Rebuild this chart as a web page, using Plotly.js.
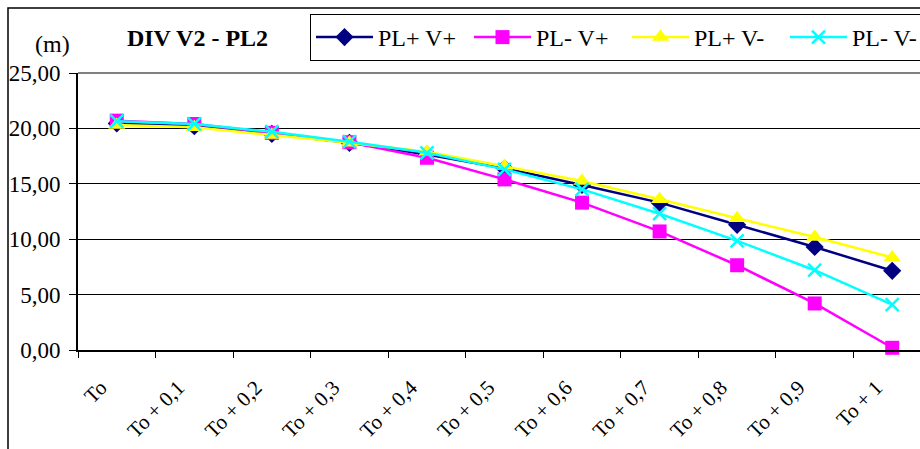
<!DOCTYPE html>
<html>
<head>
<meta charset="utf-8">
<script src="https://cdn.plot.ly/plotly-3.0.1.min.js"></script>
<style>
  html, body { margin: 0; padding: 0; background: #fff; overflow: hidden; }
  #chart { width: 920px; height: 449px; }
</style>
</head>
<body>
<div id="chart"></div>
<script>
// ---- data ----
var categories = ["To", "To + 0,1", "To + 0,2", "To + 0,3", "To + 0,4", "To + 0,5",
                  "To + 0,6", "To + 0,7", "To + 0,8", "To + 0,9", "To + 1"];
var seriesNames = ["PL+ V+", "PL- V+", "PL+ V-", "PL- V-"];
var plusPlus   = [20.45, 20.2, 19.5, 18.7, 17.65, 16.4, 14.9, 13.3, 11.3, 9.3, 7.15];
var minusPlus  = [20.7, 20.4, 19.6, 18.75, 17.35, 15.4, 13.3, 10.7, 7.65, 4.2, 0.2];
var plusMinus  = [20.3, 20.1, 19.4, 18.7, 17.9, 16.6, 15.25, 13.6, 11.9, 10.2, 8.35];
var minusMinus = [20.65, 20.4, 19.7, 18.8, 17.8, 16.3, 14.5, 12.3, 9.85, 7.2, 4.1];
var yTickValues = [0, 5, 10, 15, 20, 25];

var font = "Liberation Serif";

function mk(name, y, color, symbol, size, lineW) {
  return {
    type: "scatter", mode: "lines+markers", name: name,
    x: categories, y: y,
    line: { color: color, width: 2.5 },
    marker: { color: color, symbol: symbol, size: size,
              line: { color: color, width: lineW } },
    cliponaxis: false
  };
}

var traces = [
  mk(seriesNames[0], plusPlus,   "#000080", "diamond", 14, 0),
  mk(seriesNames[1], minusPlus,  "#FF00FF", "square", 14, 0),
  mk(seriesNames[2], plusMinus,  "#FFFF00", "triangle-up", 15, 0),
  mk(seriesNames[3], minusMinus, "#00FFFF", "x-thin-open", 13, 2.5)
];

var L = 78, T = 73, B = 99, W = 920, H = 449;
var plotW = W - L, plotH = H - T - B;
function px2paperX(px) { return (px - L) / plotW; }
function px2paperY(py) { return (H - B - py) / plotH; }

var layout = {
  width: W, height: H,
  margin: { l: L, r: 0, t: T, b: B, pad: 0 },
  paper_bgcolor: "#fff", plot_bgcolor: "#fff",
  font: { family: font, size: 22, color: "#000" },
  separators: ", ",
  showlegend: true,
  title: {
    text: "<b>DIV V2 - PL2</b>",
    font: { family: font, size: 24, color: "#000" },
    xref: "container", yref: "container",
    x: 197.5 / W, xanchor: "center",
    y: 1 - 38 / H, yanchor: "middle"
  },
  xaxis: {
    type: "category",
    range: [-0.5, 10.5 - 11 / 77.6],
    tickson: "boundaries",
    ticks: "outside", ticklen: 6, tickcolor: "#000", tickwidth: 1,
    showline: true, linecolor: "#000", linewidth: 2,
    showgrid: false, zeroline: false,
    tickangle: -45,
    tickfont: { family: font, size: 21, color: "#000" },
    ticklabelstandoff: 15,
    ticklabelshift: -16
  },
  yaxis: {
    range: [0, 25],
    tickvals: yTickValues,
    tickformat: ".2f",
    ticks: "outside", ticklen: 7, tickcolor: "#000", tickwidth: 1,
    showline: true, linecolor: "#000", linewidth: 2,
    showgrid: true, gridcolor: "#000", gridwidth: 1,
    zeroline: false,
    tickfont: { family: font, size: 23, color: "#000" },
    ticklabelstandoff: 4
  },
  legend: {
    orientation: "h",
    xref: "container", yref: "container",
    x: 310 / W, xanchor: "left",
    y: 1 - 14 / H, yanchor: "top",
    bgcolor: "#fff", bordercolor: "#000", borderwidth: 1,
    font: { family: font, size: 24, color: "#000" },
    itemwidth: 57,
    entrywidth: 86,
    entrywidthmode: "pixels",
    traceorder: "normal"
  },
  shapes: [
    { type: "rect", xref: "paper", yref: "paper",
      x0: px2paperX(8), x1: px2paperX(960), y0: px2paperY(470), y1: px2paperY(8),
      line: { color: "#000", width: 1.5 }, fillcolor: "rgba(0,0,0,0)", layer: "above" },
    { type: "line", xref: "paper", yref: "paper",
      x0: 0, x1: 1.05, y0: 1, y1: 1,
      line: { color: "#808080", width: 2 }, layer: "below" }
  ],
  annotations: [
    { text: "(m)", xref: "paper", yref: "paper",
      x: px2paperX(52.5), y: px2paperY(44),
      xanchor: "center", yanchor: "middle", showarrow: false,
      font: { family: font, size: 24, color: "#000" } }
  ]
};

Plotly.newPlot("chart", traces, layout, { displayModeBar: false, staticPlot: true });
</script>
</body>
</html>
